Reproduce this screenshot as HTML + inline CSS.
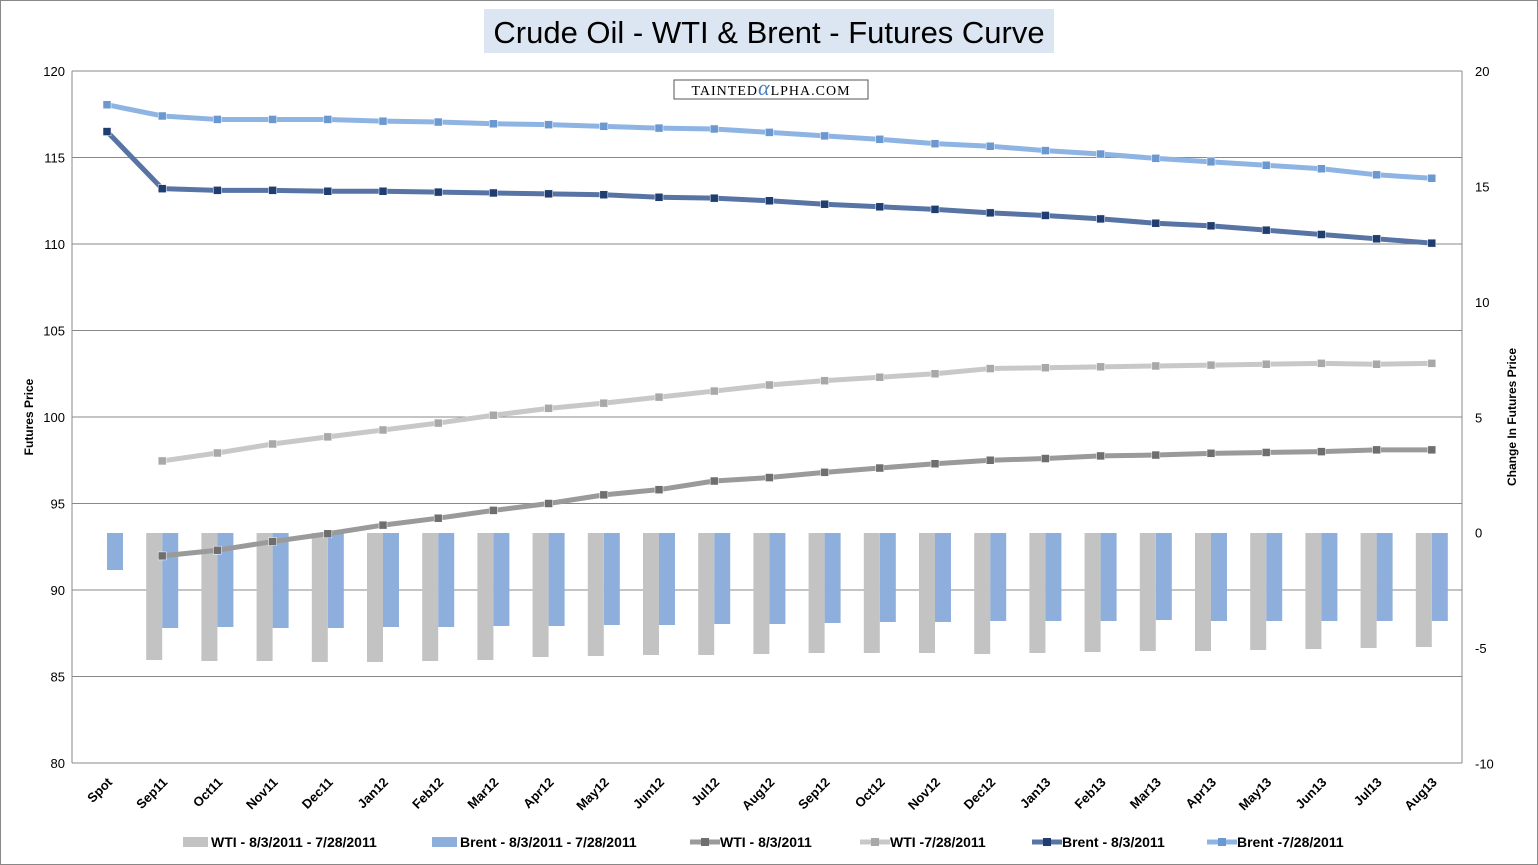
<!DOCTYPE html>
<html><head><meta charset="utf-8"><style>
body{margin:0;background:#fff;}
svg{display:block;font-family:"Liberation Sans",sans-serif;}
</style></head><body>
<svg id="s" width="1538" height="865" xmlns="http://www.w3.org/2000/svg">
<rect x="0.5" y="0.5" width="1537" height="864" fill="#fff" stroke="#888"/>
<rect x="484" y="9" width="570" height="44" fill="#dce6f2"/>
<text x="769" y="43" font-size="31" text-anchor="middle" fill="#000">Crude Oil - WTI &amp; Brent - Futures Curve</text>
<rect x="674" y="80" width="194" height="19" fill="#fff" stroke="#555"/>
<text x="771" y="95" font-size="14" text-anchor="middle" font-family="Liberation Serif,serif" letter-spacing="1">TAINTED<tspan fill="#4a7ebb" font-size="22" font-style="italic">α</tspan>LPHA.COM</text>
<g id="g"></g>
<text transform="translate(33,417) rotate(-90)" font-size="12" text-anchor="middle" font-weight="bold">Futures Price</text>
<text transform="translate(1516,417) rotate(-90)" font-size="12" text-anchor="middle" font-weight="bold">Change In Futures Price</text>
</svg>
<script>
const g=document.getElementById('g');let h='';
const L=72,R=1462,yP=p=>71+(120-p)*17.3,yC=v=>532.6-v*23.07;
for(let p=80;p<=120;p+=5){const y=yP(p);h+=`<line x1="${L}" x2="${R}" y1="${y}" y2="${y}" stroke="#888" stroke-width="1"/>`;
h+=`<text x="${L-7}" y="${y+5}" font-size="13" text-anchor="end">${p}</text>`;}
for(let v=-10;v<=20;v+=5){const y=yC(v);h+=`<text x="${R+13}" y="${y+5}" font-size="13">${v}</text>`;}
h+=`<line x1="${L}" x2="${L}" y1="71" y2="763" stroke="#888"/><line x1="${R}" x2="${R}" y1="71" y2="763" stroke="#888"/>`;
const labs=['Spot','Sep11','Oct11','Nov11','Dec11','Jan12','Feb12','Mar12','Apr12','May12','Jun12','Jul12','Aug12','Sep12','Oct12','Nov12','Dec12','Jan13','Feb13','Mar13','Apr13','May13','Jun13','Jul13','Aug13'];
const cx=i=>107+55.2*i;
const wb=[660,661,661,662,662,661,660,657,656,655,655,654,653,653,653,654,653,652,651,651,650,649,648,647];
const bb=[570,628,627,628,628,627,627,626,626,625,625,624,624,623,622,622,621,621,621,620,621,621,621,621,621];
bb.forEach((y,i)=>{h+=`<rect x="${cx(i)}" y="533" width="16" height="${y-533}" fill="#8eaedb"/>`;});
wb.forEach((y,i)=>{h+=`<rect x="${cx(i+1)-16}" y="533" width="16" height="${y-533}" fill="#c3c3c3"/>`;});
function line(d,off,col,mk){let pts=d.map((p,i)=>[cx(i+off),yP(p)]);
h+=`<polyline points="${pts.map(q=>q.join(',')).join(' ')}" fill="none" stroke="${col}" stroke-width="5" stroke-linejoin="round"/>`;
pts.forEach(q=>h+=`<rect x="${q[0]-4}" y="${q[1]-4}" width="8" height="8" fill="${mk}" stroke="#fff" stroke-width="0.5"/>`);}
line([97.46,97.92,98.44,98.85,99.25,99.65,100.1,100.5,100.8,101.15,101.5,101.85,102.1,102.3,102.5,102.8,102.85,102.9,102.95,103.0,103.05,103.1,103.05,103.1],1,'#c8c8c8','#a8a8a8');
line([91.97,92.3,92.8,93.25,93.75,94.15,94.6,95.0,95.5,95.8,96.3,96.5,96.8,97.05,97.3,97.5,97.6,97.75,97.8,97.9,97.95,98.0,98.1,98.1],1,'#9a9a9a','#6e6e6e');
line([118.05,117.4,117.2,117.2,117.2,117.1,117.05,116.95,116.9,116.8,116.7,116.65,116.45,116.25,116.05,115.8,115.65,115.4,115.2,114.95,114.75,114.55,114.35,114.0,113.8],0,'#8eb4e3','#6c98d0');
line([116.5,113.2,113.1,113.1,113.05,113.05,113.0,112.95,112.9,112.85,112.7,112.65,112.5,112.3,112.15,112.0,111.8,111.65,111.45,111.2,111.05,110.8,110.55,110.3,110.05],0,'#5874a4','#1f3d6e');
labs.forEach((t,i)=>{h+=`<text transform="translate(${cx(i)+6},783) rotate(-45)" font-size="13" font-weight="bold" text-anchor="end">${t}</text>`;});
const lg=[[183,'bar','#c3c3c3','WTI - 8/3/2011 - 7/28/2011'],[432,'bar','#8eaedb','Brent - 8/3/2011  - 7/28/2011'],[690,'ln','#9a9a9a','WTI - 8/3/2011','#6e6e6e'],[860,'ln','#c8c8c8','WTI -7/28/2011','#a8a8a8'],[1032,'ln','#5874a4','Brent - 8/3/2011','#1f3d6e'],[1207,'ln','#8eb4e3','Brent -7/28/2011','#6c98d0']];
lg.forEach(l=>{if(l[1]=='bar')h+=`<rect x="${l[0]}" y="837" width="25" height="10" fill="${l[2]}"/>`;
else h+=`<line x1="${l[0]}" x2="${l[0]+30}" y1="842" y2="842" stroke="${l[2]}" stroke-width="5"/><rect x="${l[0]+11}" y="838" width="8" height="8" fill="${l[4]}"/>`;
h+=`<text x="${l[0]+(l[1]=='bar'?28:30)}" y="847" font-size="14" font-weight="bold">${l[3]}</text>`;});
g.innerHTML=h;
</script>
</body></html>
